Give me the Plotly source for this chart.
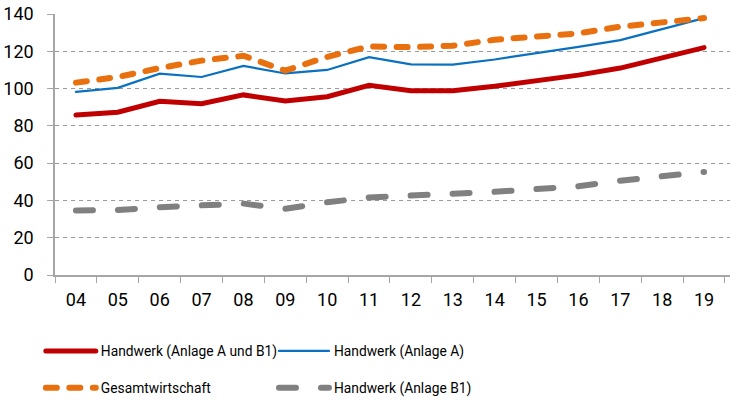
import plotly.graph_objects as go

years = ["04", "05", "06", "07", "08", "09", "10", "11", "12", "13", "14", "15", "16", "17", "18", "19"]
hw_ab1 = [85.8, 87.3, 93.2, 91.9, 96.6, 93.4, 95.6, 101.8, 98.8, 98.8, 101.2, 104.0, 107.2, 111.0, 116.3, 122.0]
hw_a = [98.2, 100.4, 108.0, 106.2, 112.2, 108.1, 110.0, 116.8, 113.0, 112.8, 115.6, 118.8, 122.4, 126.0, 131.8, 137.8]
gesamt = [103.2, 106.2, 111.0, 115.0, 117.6, 109.6, 117.0, 122.6, 122.2, 123.0, 126.2, 127.6, 129.6, 133.2, 135.6, 137.8]
hw_b1 = [34.6, 34.8, 36.4, 37.4, 38.3, 35.5, 39.0, 41.6, 42.2, 43.6, 44.6, 46.2, 47.6, 50.6, 52.6, 55.3]

FONT = "Roboto, sans-serif"

fig = go.Figure()
fig.add_trace(go.Scatter(x=years, y=hw_ab1, mode="lines", name="Handwerk (Anlage A und B1)",
                         line=dict(color="#C00000", width=5), legend="legend"))
fig.add_trace(go.Scatter(x=years, y=hw_a, mode="lines", name="Handwerk (Anlage A)",
                         line=dict(color="#0A70C0", width=2.2), legend="legend2"))
fig.add_trace(go.Scatter(x=years, y=gesamt, mode="lines", name="Gesamtwirtschaft",
                         line=dict(color="#E8700F", width=6, dash="11px,12.5px"), legend="legend3"))
fig.add_trace(go.Scatter(x=years, y=hw_b1, mode="lines", name="Handwerk (Anlage B1)",
                         line=dict(color="#808080", width=6, dash="17px,25px"), legend="legend4"))

legend_common = dict(orientation="h", xanchor="left", yanchor="top",
                     font=dict(family=FONT, size=13.8, color="#000000"),
                     bgcolor="rgba(0,0,0,0)", itemwidth=50)

col1, col2 = -0.021, 0.3244
row1, row2 = -0.2315, -0.3727

fig.update_layout(
    width=730, height=406,
    margin=dict(l=55, r=0, t=14, b=131),
    paper_bgcolor="white", plot_bgcolor="white",
    font=dict(family=FONT, size=18, color="#000000"),
    showlegend=True,
    legend=dict(x=col1, y=row1, **legend_common),
    legend2=dict(x=col2, y=row1, **legend_common),
    legend3=dict(x=col1, y=row2, **legend_common),
    legend4=dict(x=col2, y=row2, **legend_common),
    xaxis=dict(
        type="category", range=[-0.5, 15.62],
        showline=True, linecolor="#A6A6A6", linewidth=1.5,
        ticks="outside", tickson="boundaries", ticklen=6, tickcolor="#A6A6A6",
        showgrid=False, tickfont=dict(family=FONT, size=18), ticklabelstandoff=8,
    ),
    yaxis=dict(
        range=[0, 140], tickvals=[0, 20, 40, 60, 80, 100, 120, 140],
        showline=True, linecolor="#A6A6A6", linewidth=1.5,
        ticks="outside", ticklen=6, tickcolor="#A6A6A6",
        showgrid=True, gridcolor="#9A9A9A", griddash="4px,4px", gridwidth=1,
        zeroline=False, tickfont=dict(family=FONT, size=18), ticklabelstandoff=10,
    ),
)

post = """
document.body.style.margin = '0';
document.querySelectorAll('path.js-line').forEach(function(p){ p.style.strokeLinecap = 'round'; });
"""

fig.write_html("out.html", post_script=post, config={"displayModeBar": False})
